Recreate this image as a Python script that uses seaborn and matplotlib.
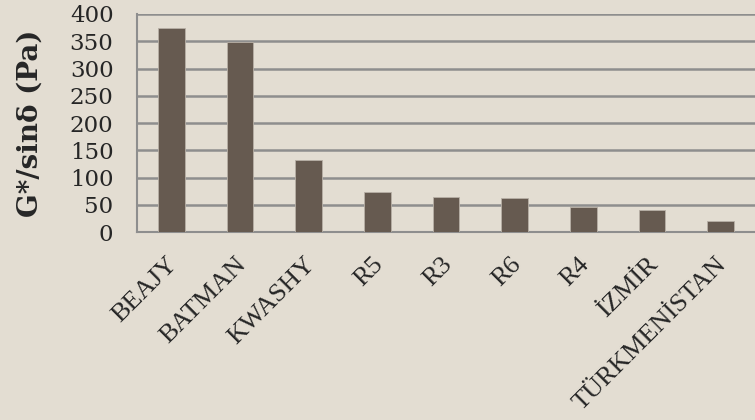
import matplotlib
matplotlib.use("Agg")
import matplotlib.pyplot as plt
import matplotlib.transforms as mtransforms
import seaborn as sns
import pandas as pd

categories = ["BEAJY", "BATMAN", "KWASHY", "R5", "R3", "R6", "R4", "İZMİR", "TÜRKMENİSTAN"]
values = [375, 348, 132, 73, 64, 63, 45, 40, 21]
yticks = [0, 50, 100, 150, 200, 250, 300, 350, 400]

bg = "#E3DDD2"
bar_color = "#665A50"
grid_color = "#8E8E8E"

sns.set_theme(style="white")
plt.rcParams['font.family'] = ['Liberation Serif', 'DejaVu Serif']

df = pd.DataFrame({"cat": categories, "val": values})

fig = plt.figure(figsize=(7.55, 4.2), dpi=100, facecolor=bg)
ax = fig.add_axes([137/755, 1-232/420, 1-137/755, (232-14)/420])
ax.set_facecolor(bg)

ax.set_axisbelow(True)
ax.yaxis.grid(True, color=grid_color, linewidth=1.8)
ax.xaxis.grid(False)

sns.barplot(data=df, x="cat", y="val", color=bar_color, width=0.39,
            edgecolor="#B8B0A6", linewidth=0.6, saturation=1, ax=ax, zorder=3)

ax.set_xlim(-0.5, len(categories) - 0.5)
ax.set_ylim(0, 400)
ax.set_yticks(yticks)
ax.set_yticklabels([str(t) for t in yticks], fontsize=16.5, family=['DejaVu Serif'])
ax.set_xticks(range(len(categories)))
ax.set_xticklabels(categories, rotation=45, ha="right", va="center",
                   rotation_mode="anchor", fontsize=19)
ax.tick_params(axis="x", length=0, pad=21)
ax.tick_params(axis="y", length=0, pad=17)
offset = mtransforms.ScaledTranslation(2/72, 0, fig.dpi_scale_trans)
for lbl in ax.get_xticklabels():
    lbl.set_transform(lbl.get_transform() + offset)

ax.set_xlabel("")
ax.set_ylabel("G*/sinδ (Pa)", fontsize=20, fontweight="bold", labelpad=19,
              family=['DejaVu Serif'])

for s in ["top", "right"]:
    ax.spines[s].set_visible(False)
for s in ["left", "bottom"]:
    ax.spines[s].set_color(grid_color)
    ax.spines[s].set_linewidth(1.5)

fig.savefig("out.png", dpi=100, facecolor=bg)
